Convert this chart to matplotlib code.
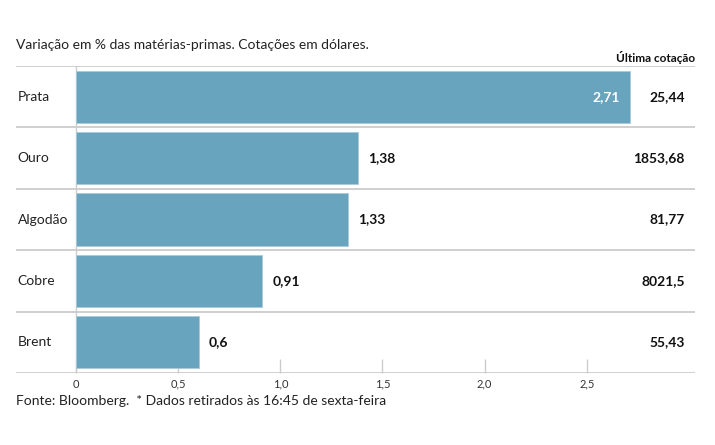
import matplotlib.pyplot as plt

plt.rcParams['font.family'] = ['Lato', 'DejaVu Sans']

categorias = ["Prata", "Ouro", "Algodão", "Cobre", "Brent"]
variacao = [2.71, 1.38, 1.33, 0.91, 0.6]
cotacao = ["25,44", "1853,68", "81,77", "8021,5", "55,43"]
ticks = [0, 0.5, 1.0, 1.5, 2.0, 2.5]
tick_labels = ["0", "0,5", "1,0", "1,5", "2,0", "2,5"]

W, H = 715, 445
fig = plt.figure(figsize=(W / 100, H / 100), dpi=100)
ax = fig.add_axes([16 / W, (H - 373) / H, (695 - 16) / W, (373 - 66) / H])

bar_color = "#69a4bf"
grid = "#cccccc"
y = range(len(categorias))
ax.barh(y, variacao, height=0.85, color=bar_color, edgecolor="#a9cbdb", linewidth=0.6, zorder=3)

ax.set_xlim(-60 / 204, 3.03)
ax.set_ylim(len(categorias) - 0.5, -0.5)

for i in range(len(categorias) + 1):
    ax.axhline(i - 0.5, color=grid, lw=1.3, zorder=1)
ax.axvline(0, color=grid, lw=1.0, zorder=2)

for i, (c, v, q) in enumerate(zip(categorias, variacao, cotacao)):
    ax.text(-0.285, i, c, va="center", ha="left", fontsize=10, color="#222222")
    lab = f"{v}".replace(".", ",")
    if v > 2.5:
        ax.text(v - 0.05, i, lab, va="center", ha="right", fontsize=10,
                fontweight="bold", color="white", zorder=4)
    else:
        ax.text(v + 0.05, i, lab, va="center", ha="left", fontsize=10,
                fontweight="bold", color="#111111", zorder=4)
    ax.text(2.98, i, q, va="center", ha="right", fontsize=10,
            fontweight="bold", color="#111111")

ax.set_xticks(ticks)
ax.set_xticklabels(tick_labels, fontsize=8, color="#333333")
ax.tick_params(axis="x", direction="in", length=10, color=grid, width=1, pad=4)
ax.set_yticks([])
for s in ax.spines.values():
    s.set_visible(False)

fig.text(16 / W, 1 - 45 / H, "Variação em % das matérias-primas. Cotações em dólares.",
         fontsize=10, va="center", ha="left", color="#222222")
fig.text(695 / W, 1 - 57 / H, "Última cotação", fontsize=8.5, fontweight="bold",
         va="center", ha="right", color="#111111")
fig.text(16 / W, 1 - 401 / H, "Fonte: Bloomberg.  * Dados retirados às 16:45 de sexta-feira",
         fontsize=10, va="center", ha="left", color="#222222")

fig.savefig("out.png", dpi=100)
